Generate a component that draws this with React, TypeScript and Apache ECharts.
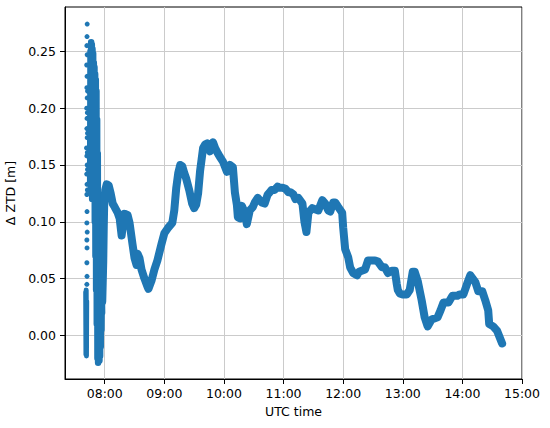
import React, { useEffect, useRef } from "react";
import * as echarts from "echarts";

// ---- data ----
const xTickHours = [8, 9, 10, 11, 12, 13, 14, 15];
const yTickValues = [0, 0.05, 0.1, 0.15, 0.2, 0.25];

// dense noisy start segment A (UTC time, ΔZTD m)
const bandATimes = ["07:40:50", "07:41:05", "07:41:20", "07:41:35", "07:41:50"];
const bandAValues = [0.038, -0.017, 0.04, -0.018, 0.03];

// sparse jump points after segment A
const sparseTimes = [
  "07:42:20", "07:42:10", "07:42:00", "07:42:20", "07:41:50", "07:42:10", "07:42:00", "07:42:20",
  "07:41:50", "07:42:10", "07:42:00", "07:42:20", "07:41:40", "07:42:00", "07:42:20", "07:41:50",
  "07:42:10", "07:42:00", "07:42:10", "07:42:00", "07:42:20", "07:42:00", "07:42:10", "07:42:00",
  "07:42:10", "07:42:00", "07:42:40", "07:42:30", "07:42:40", "07:42:30", "07:42:40", "07:42:30",
];
const sparseValues = [
  0.274, 0.263, 0.255, 0.247, 0.238, 0.228, 0.218, 0.209,
  0.2, 0.191, 0.182, 0.174, 0.165, 0.158, 0.15, 0.142,
  0.133, 0.124, 0.109, 0.099, 0.091, 0.084, 0.077, 0.064,
  0.052, 0.045, 0.215, 0.196, 0.178, 0.161, 0.146, 0.128,
];

// dense noisy segments B and C
const bandBCTimes = [
  "07:45:20", "07:45:40", "07:46:00", "07:46:20", "07:46:40", "07:47:00", "07:47:20", "07:47:40",
  "07:48:00", "07:48:20", "07:48:40", "07:49:00", "07:49:20", "07:49:40", "07:50:00", "07:50:20",
  "07:50:40", "07:51:00", "07:51:20", "07:51:40", "07:52:00", "07:52:20", "07:52:40", "07:53:00",
  "07:53:20", "07:53:40", "07:54:00", "07:54:20", "07:54:40", "07:55:00", "07:55:20", "07:55:40",
  "07:56:00", "07:56:20", "07:56:40", "07:57:00", "07:57:20",
];
const bandBCValues = [
  0.135, 0.25, 0.125, 0.258, 0.13, 0.256, 0.12, 0.252,
  0.128, 0.248, 0.135, 0.24, 0.12, 0.236, 0.1, 0.23,
  0.07, 0.225, 0.04, 0.215, 0.01, 0.19, -0.02, 0.16,
  -0.024, 0.05, -0.023, 0.048, -0.022, 0.05, -0.018, 0.046,
  -0.01, 0.045, 0.005, 0.042, 0.02,
];

// main trace
const traceTimes = [
  "07:57:30", "07:58:30", "07:59:00", "07:59:30", "08:00:30", "08:02", "08:04", "08:06", "08:08", "08:10",
  "08:13", "08:15", "08:17", "08:18", "08:20", "08:23", "08:25", "08:28", "08:30", "08:32",
  "08:33", "08:35", "08:37", "08:40", "08:43", "08:44", "08:47", "08:50", "08:53", "08:57",
  "09:00", "09:04", "09:08", "09:10", "09:12", "09:14", "09:16", "09:18", "09:20", "09:22",
  "09:25", "09:28", "09:30", "09:32", "09:34", "09:36", "09:39", "09:41", "09:43", "09:46",
  "09:49", "09:51", "09:54", "09:56", "09:59", "10:03", "10:06", "10:09", "10:11", "10:13",
  "10:14", "10:16", "10:18", "10:21", "10:23", "10:26", "10:29", "10:31", "10:34", "10:38",
  "10:41", "10:44", "10:46", "10:48", "10:51", "10:54", "10:56", "10:59", "11:02", "11:05",
  "11:07", "11:10", "11:12", "11:15", "11:19", "11:21", "11:23", "11:25", "11:29", "11:35",
  "11:39", "11:42", "11:45", "11:47", "11:50", "11:52", "11:55", "11:59", "12:00", "12:02",
  "12:05", "12:07", "12:10", "12:14", "12:16", "12:22", "12:25", "12:32", "12:35", "12:39",
  "12:42", "12:45", "12:49", "12:52", "12:54", "12:55", "12:57", "13:00", "13:04", "13:07",
  "13:10", "13:12", "13:15", "13:19", "13:22", "13:25", "13:29", "13:35", "13:38", "13:41",
  "13:46", "13:50", "13:55", "13:57", "14:01", "14:05", "14:08", "14:13", "14:16", "14:20",
  "14:23", "14:26", "14:27", "14:31", "14:35", "14:40",
];
const traceValues = [
  0.03, 0.065, 0.095, 0.118, 0.128, 0.133, 0.132, 0.125, 0.116, 0.113,
  0.108, 0.103, 0.088, 0.095, 0.107, 0.106, 0.099, 0.08, 0.068, 0.062,
  0.072, 0.068, 0.058, 0.05, 0.043, 0.041, 0.048, 0.058, 0.066, 0.08,
  0.09, 0.095, 0.099, 0.11, 0.13, 0.143, 0.15, 0.149, 0.143, 0.138,
  0.128, 0.116, 0.112, 0.115, 0.125, 0.145, 0.165, 0.168, 0.169, 0.162,
  0.17, 0.165, 0.16, 0.157, 0.153, 0.144, 0.15, 0.148, 0.126, 0.115,
  0.104, 0.103, 0.114, 0.108, 0.098, 0.11, 0.113, 0.117, 0.121, 0.117,
  0.116, 0.124, 0.126, 0.128, 0.128, 0.131, 0.13, 0.13, 0.129, 0.126,
  0.126, 0.124, 0.12, 0.121, 0.116, 0.1, 0.091, 0.108, 0.112, 0.11,
  0.119, 0.116, 0.11, 0.109, 0.117, 0.117, 0.113, 0.108, 0.095, 0.076,
  0.069, 0.06, 0.055, 0.053, 0.056, 0.058, 0.066, 0.066, 0.065, 0.06,
  0.06, 0.055, 0.057, 0.057, 0.045, 0.04, 0.037, 0.036, 0.036, 0.04,
  0.056, 0.056, 0.048, 0.031, 0.016, 0.008, 0.014, 0.016, 0.022, 0.029,
  0.029, 0.035, 0.035, 0.036, 0.036, 0.046, 0.053, 0.047, 0.039, 0.039,
  0.031, 0.022, 0.01, 0.008, 0.004, -0.007,
];

const toHours = (s: string) => {
  const p = s.split(":").map(Number);
  return p[0] + p[1] / 60 + (p[2] || 0) / 3600;
};
const pairs = (ts: string[], vs: number[]) => ts.map((t, i) => [toHours(t), vs[i]]);

const BLUE = "#1f77b4";
const FONT = "DejaVu Sans";
const GRID = "#cbcbcb";

export default function App() {
  const ref = useRef<HTMLDivElement>(null);
  useEffect(() => {
    if (!ref.current) return;
    const chart = echarts.init(ref.current, undefined, { renderer: "svg" });
    const lineBase = {
      type: "line" as const,
      showSymbol: false,
      symbol: "none",
      silent: true,
      lineStyle: { color: BLUE, cap: "round", join: "round" },
      itemStyle: { color: BLUE },
    };
    chart.setOption({
      animation: false,
      backgroundColor: "#ffffff",
      grid: {
        left: 65,
        right: 28,
        top: 7,
        bottom: 49,
        show: true,
        borderColor: "#000",
        borderWidth: 1,
        containLabel: false,
        outerBoundsMode: "none",
      },
      xAxis: {
        type: "value",
        min: 7 + 20 / 60,
        max: 15,
        splitNumber: 8,
        axisLine: { show: true, onZero: false, lineStyle: { color: "#000", width: 1 } },
        axisTick: { show: true, length: 5, customValues: xTickHours, lineStyle: { color: "#000" } },
        axisLabel: {
          customValues: xTickHours,
          formatter: (v: number) => String(Math.round(v)).padStart(2, "0") + ":00",
          color: "#000",
          fontSize: 12.5,
          fontFamily: FONT,
          margin: 8,
        },
        splitLine: { show: true, lineStyle: { color: GRID, width: 1 } },
        name: "UTC time",
        nameLocation: "middle",
        nameGap: 26,
        nameTextStyle: { color: "#000", fontSize: 12.5, fontFamily: FONT },
      },
      yAxis: {
        type: "value",
        min: -0.0383,
        max: 0.289,
        splitNumber: 6,
        axisLine: { show: true, onZero: false, lineStyle: { color: "#000", width: 1 } },
        axisTick: { show: true, length: 5, customValues: yTickValues, lineStyle: { color: "#000" } },
        axisLabel: {
          customValues: yTickValues,
          formatter: (v: number) => v.toFixed(2),
          color: "#000",
          fontSize: 12.5,
          fontFamily: FONT,
          margin: 9,
        },
        splitLine: { show: true, lineStyle: { color: GRID, width: 1 } },
        name: "Δ ZTD [m]",
        nameLocation: "middle",
        nameGap: 43,
        nameRotate: 90,
        nameTextStyle: { color: "#000", fontSize: 12.5, fontFamily: FONT },
      },
      series: [
        { ...lineBase, data: pairs(bandATimes, bandAValues), lineStyle: { ...lineBase.lineStyle, width: 5 } },
        { ...lineBase, data: pairs(bandBCTimes, bandBCValues), lineStyle: { ...lineBase.lineStyle, width: 6.5 } },
        { ...lineBase, data: pairs(traceTimes, traceValues), lineStyle: { ...lineBase.lineStyle, width: 8 } },
        {
          type: "scatter",
          silent: true,
          symbolSize: 5,
          itemStyle: { color: BLUE, opacity: 1 },
          data: pairs(sparseTimes, sparseValues),
        },
      ],
    });
    return () => chart.dispose();
  }, []);
  return (
    <div
      ref={ref}
      style={{ position: "fixed", left: 0, top: 0, width: 550, height: 428, background: "#fff" }}
    />
  );
}
